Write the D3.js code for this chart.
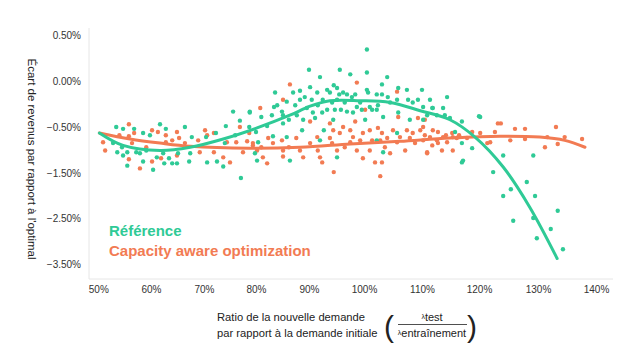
<!DOCTYPE html>
<html>
<head>
<meta charset="utf-8">
<script src="https://cdn.jsdelivr.net/npm/d3@7"></script>
<style>
  body { margin: 0; background: #fff; }
  svg { display: block; font-family: "Liberation Sans", Arial, sans-serif; }
</style>
</head>
<body>
<svg></svg>
<script>
// tick labels as they appear on the chart
var xTicks = [50, 60, 70, 80, 90, 100, 110, 120, 130, 140];
var yTicks = [0.5, 0, -0.5, -1.5, -2.5, -3.5];

// scatter: [ratio %, revenue gap %]
var refPoints = [
  [53.4,-0.50],[54.7,-0.54],[56.8,-0.54],[58.5,-0.63],[59.8,-0.68],[61.7,-0.47],[62.8,-0.54],[66.4,-0.50],
  [52.8,-0.85],[54.5,-0.94],[53.6,-1.05],[55.5,-1.05],[54.7,-1.12],[55.5,-1.34],[57.2,-1.05],[57.9,-1.07],
  [58.5,-1.25],[59.1,-1.01],[60.4,-1.43],[61.1,-1.16],[62.5,-1.29],[62.3,-1.07],[63.4,-1.18],[64.0,-1.29],
  [64.9,-1.29],[65.1,-1.07],[67.2,-1.25],[67.4,-1.07],[67.7,-0.72],[70.4,-0.72],[70.6,-1.27],[72.3,-0.63],
  [72.5,-1.25],[73.7,-1.36],[74.2,-0.49],[74.0,-0.85],[75.6,-0.33],[76.0,-0.68],[76.9,-0.43],[77.1,-1.61],
  [78.7,-0.50],[78.8,-0.34],[80.0,-0.61],[80.2,-1.23],[81.0,-0.39],[82.1,-0.49],[83.0,-0.37],[83.2,-0.70],
  [83.4,-0.28],[84.9,-0.33],[85.1,-0.46],[85.8,-0.72],[78.8,-0.33],[80.4,-0.83],[79.8,-1.07],[83.6,-0.12],
  [84.0,-0.26],[85.1,-0.37],[85.8,-0.22],[86.2,-0.42],[86.4,-1.23],[87.0,-0.12],[87.4,-0.26],[87.7,-0.37],
  [88.3,-0.20],[88.3,-0.10],[88.7,-0.57],[88.9,-0.42],[89.2,-0.17],[89.6,-0.29],[90.0,0.13],[90.2,-0.06],
  [90.5,-0.20],[90.7,-0.34],[91.1,-0.40],[91.5,-0.12],[91.6,-0.26],[92.0,0.05],[92.4,-0.34],[92.5,-0.20],
  [92.7,-0.57],[93.3,-0.09],[93.3,-0.31],[93.8,-0.12],[94.2,-0.23],[94.4,-0.42],[94.5,-0.04],[94.7,-0.31],
  [95.1,-0.07],[95.1,-0.20],[95.5,-0.14],[95.6,0.13],[95.8,-0.31],[96.2,-0.12],[96.5,-0.23],[96.9,-0.14],
  [96.9,-0.33],[97.5,0.08],[97.8,-0.17],[98.0,-0.34],[98.4,-0.14],[98.7,-0.28],[99.3,-0.23],[99.6,-0.31],
  [100.2,-0.42],[100.5,0.10],[100.5,-0.09],[100.5,0.35],[100.7,-0.12],[101.0,-0.28],[101.4,-0.31],[102.2,-0.14],
  [102.2,-0.31],[102.4,-0.26],[103.1,-0.03],[103.1,-0.14],[103.3,-0.39],[104.0,0.05],[104.1,-0.17],[104.5,-0.23],
  [105.7,-0.20],[105.9,-0.07],[105.9,-0.34],[107.4,-0.09],[107.6,-0.20],[107.9,-0.42],[108.4,-0.23],[109.3,-0.20],
  [110.0,-0.09],[110.2,-0.42],[110.9,-0.37],[111.4,-0.20],[111.8,-0.29],[112.6,-0.37],[113.7,-0.29],[114.0,-0.37],
  [114.4,-0.17],[114.9,-0.40],[115.8,-0.61],[117.0,-0.44],[117.0,-0.85],[117.2,-1.23],[118.8,-0.96],[120.2,-0.39],
  [122.4,-1.48],[92.0,-0.79],[95.1,-1.16],[103.3,-1.05],[102.2,-0.79],[105.7,-0.63],[110.2,-0.28],[111.9,-0.29],
  [120.0,-0.38],[117.0,-1.27],[124.1,-1.12],[129.2,-1.12],[128.1,-1.70],[125.4,-1.86],[124.1,-2.01],[129.5,-2.01],
  [133.4,-2.34],[125.8,-2.56],[129.2,-2.50],[132.2,-2.74],[129.8,-2.94],[134.3,-3.18]
];

var capPoints = [
  [50.9,-0.83],[51.3,-1.01],[54.0,-0.68],[55.8,-0.47],[55.8,-0.70],[56.8,-0.63],[56.4,-0.85],[55.8,-1.20],
  [57.9,-1.40],[59.1,-0.94],[60.2,-0.57],[60.2,-1.25],[61.3,-0.61],[61.9,-1.18],[62.8,-0.68],[62.8,-0.83],
  [64.0,-0.79],[64.9,-0.61],[65.3,-0.74],[64.9,-1.12],[66.4,-0.85],[68.9,-0.79],[69.2,-1.05],[70.2,-0.57],
  [70.6,-0.68],[71.9,-0.63],[71.9,-1.05],[73.7,-1.16],[74.4,-0.83],[75.0,-1.27],[76.2,-0.83],[76.9,-0.50],
  [77.5,-1.05],[78.3,-0.81],[78.7,-0.63],[79.4,-0.85],[81.0,-0.94],[82.1,-1.29],[83.2,-0.85],[84.9,-0.79],
  [85.1,-1.14],[86.2,-0.94],[80.8,-0.29],[85.1,-0.20],[79.4,-0.90],[80.2,-1.01],[81.3,-1.16],[82.3,-0.74],
  [86.4,-0.03],[85.1,-1.01],[87.6,-0.74],[88.3,-1.01],[88.9,-1.16],[90.2,-0.44],[90.2,-0.85],[91.5,-0.72],
  [91.6,-1.01],[92.0,-1.16],[92.4,-1.27],[93.8,-0.46],[93.8,-0.74],[94.2,-0.85],[94.4,-0.57],[95.1,-1.01],
  [94.5,-1.48],[95.6,-0.63],[96.2,-0.50],[96.5,-0.94],[97.5,-0.57],[97.5,-0.83],[98.0,-0.72],[98.4,-0.44],
  [98.7,-0.01],[98.7,-1.01],[99.3,-0.79],[99.8,-0.63],[100.2,-0.31],[99.8,-1.18],[101.0,-0.57],[101.0,-1.01],
  [101.4,-0.79],[101.9,-1.27],[102.4,-0.52],[102.8,-0.79],[103.1,-0.63],[102.8,-1.57],[103.1,-1.27],[103.6,-0.94],
  [104.0,-0.74],[104.5,-1.07],[105.0,-0.57],[105.7,-0.11],[105.7,-0.83],[105.9,-0.39],[106.2,-0.72],[107.1,-1.01],
  [107.4,-0.57],[107.9,-0.74],[108.4,-0.63],[108.8,-0.85],[109.3,-0.40],[109.7,-0.57],[110.2,-0.79],[110.5,-0.42],
  [110.9,-1.05],[111.4,-0.72],[111.8,-0.90],[111.9,-0.57],[112.6,-0.79],[112.8,-0.61],[113.5,-1.01],[113.7,-0.72],
  [114.4,-0.83],[115.3,-0.63],[115.4,-1.01],[116.1,-0.74],[117.9,-0.74],[118.8,-0.61],[120.2,-0.63],[123.2,-0.46],
  [121.4,-0.85],[110.2,-0.50],[110.5,-0.68],[110.9,-1.07],[112.8,-0.85],[114.2,-0.68],[115.4,-0.72],[116.5,-0.68],
  [121.9,-0.83],[122.7,-0.61],[123.7,-0.46],[125.3,-0.79],[126.1,-0.54],[127.8,-0.54],[127.8,-0.76],[131.2,-0.94],
  [131.6,-0.72],[133.1,-0.50],[133.4,-0.87],[134.6,-0.72],[137.6,-0.76]
];

// fitted trend curves
var refFit = [
  [50.2,-0.63],[54.7,-0.90],[61.7,-1.01],[67.4,-0.94],[73.7,-0.76],[80.2,-0.52],[86.4,-0.37],[90.2,-0.27],
  [93.8,-0.21],[99.3,-0.21],[104.5,-0.23],[109.7,-0.32],[114.9,-0.42],[119.3,-0.72],[124.1,-1.37],[128.6,-2.26],
  [133.3,-3.38]
];
var capFit = [
  [50.2,-0.63],[56.0,-0.76],[61.7,-0.85],[67.4,-0.92],[78.8,-0.96],[88.3,-0.94],[97.5,-0.87],[106.2,-0.81],
  [114.9,-0.74],[123.6,-0.70],[130.3,-0.72],[134.6,-0.79],[138.1,-0.94]
];

var green = "#2fca96", orange = "#f27b53";

var svg = d3.select("svg").attr("width", 640).attr("height", 349);

// the printed axis is not evenly spaced, so the scales follow the tick positions
var x = d3.scaleLinear().domain(xTicks).range([98.3, 151, 204, 256, 309, 364, 422, 479, 538, 596]);
var y = d3.scaleLinear().domain(yTicks).range([35.7, 81.7, 127, 173, 218, 264]);

// frame
svg.append("line").attr("x1", 89).attr("x2", 89).attr("y1", 28).attr("y2", 279)
   .attr("stroke", "#e6e6e6").attr("stroke-width", 1);
svg.append("line").attr("x1", 89).attr("x2", 613).attr("y1", 279).attr("y2", 279)
   .attr("stroke", "#e6e6e6").attr("stroke-width", 1);

// axes
var xAxis = svg.append("g").attr("transform", "translate(0,286)")
  .call(d3.axisBottom(x).tickValues(xTicks).tickSize(0).tickPadding(0).tickFormat(function(d) {return d + "%";}));
var yAxis = svg.append("g").attr("transform", "translate(89,0)")
  .call(d3.axisLeft(y).tickValues(yTicks).tickSize(0).tickPadding(8).tickFormat(function(d) {return d3.format(".2f")(d) + "%";}));
svg.selectAll(".domain").remove();
svg.selectAll(".tick text").attr("font-size", 10).attr("fill", "#333").attr("font-family", "Liberation Sans, Arial, sans-serif");
xAxis.selectAll("text").attr("dy", "0.71em");

// points
svg.append("g").selectAll("circle")
   .data(capPoints).enter().append("circle")
   .attr("cx", function(d) {return x(d[0]);})
   .attr("cy", function(d) {return y(d[1]);})
   .attr("r", 2.2).attr("fill", orange);
svg.append("g").selectAll("circle")
   .data(refPoints).enter().append("circle")
   .attr("cx", function(d) {return x(d[0]);})
   .attr("cy", function(d) {return y(d[1]);})
   .attr("r", 2.2).attr("fill", green);

// trend lines
var line = d3.line().x(function(d) {return x(d[0]);}).y(function(d) {return y(d[1]);}).curve(d3.curveCatmullRom);
svg.append("path").datum(capFit).attr("d", line).attr("fill", "none")
   .attr("stroke", orange).attr("stroke-width", 3).attr("stroke-linecap", "round");
svg.append("path").datum(refFit).attr("d", line).attr("fill", "none")
   .attr("stroke", green).attr("stroke-width", 3).attr("stroke-linecap", "round");

// legend
svg.append("text").attr("x", 109).attr("y", 236).text("Référence")
   .attr("fill", green).attr("font-size", 15).attr("font-weight", "bold");
svg.append("text").attr("x", 109).attr("y", 256).text("Capacity aware optimization")
   .attr("fill", orange).attr("font-size", 15).attr("font-weight", "bold");

// y title
svg.append("text").attr("transform", "translate(28,159) rotate(90)")
   .attr("text-anchor", "middle").attr("font-size", 11.5).attr("fill", "#222")
   .text("Écart de revenus par rapport à l'optimal");

// x title
svg.append("text").attr("x", 217).attr("y", 321).attr("font-size", 11.2).attr("fill", "#222")
   .text("Ratio de la nouvelle demande");
svg.append("text").attr("x", 217).attr("y", 337).attr("font-size", 11.2).attr("fill", "#222")
   .text("par rapport à la demande initiale");

svg.append("text").attr("x", 384).attr("y", 337).attr("font-size", 30).attr("font-weight", 300).attr("fill", "#222").text("(");
svg.append("text").attr("x", 467).attr("y", 337).attr("font-size", 30).attr("font-weight", 300).attr("fill", "#222").text(")");

var num = svg.append("text").attr("x", 432).attr("y", 321).attr("text-anchor", "middle").attr("font-size", 11).attr("fill", "#222");
num.append("tspan").attr("font-size", 7).attr("dy", -2).text("λ");
num.append("tspan").attr("dy", 2).text("test");
svg.append("line").attr("x1", 398).attr("x2", 467).attr("y1", 324.5).attr("y2", 324.5).attr("stroke", "#222").attr("stroke-width", 0.8);
var den = svg.append("text").attr("x", 432).attr("y", 337).attr("text-anchor", "middle").attr("font-size", 11).attr("fill", "#222");
den.append("tspan").attr("font-size", 7).attr("dy", -2).text("λ");
den.append("tspan").attr("dy", 2).text("entraînement");
</script>
</body>
</html>
